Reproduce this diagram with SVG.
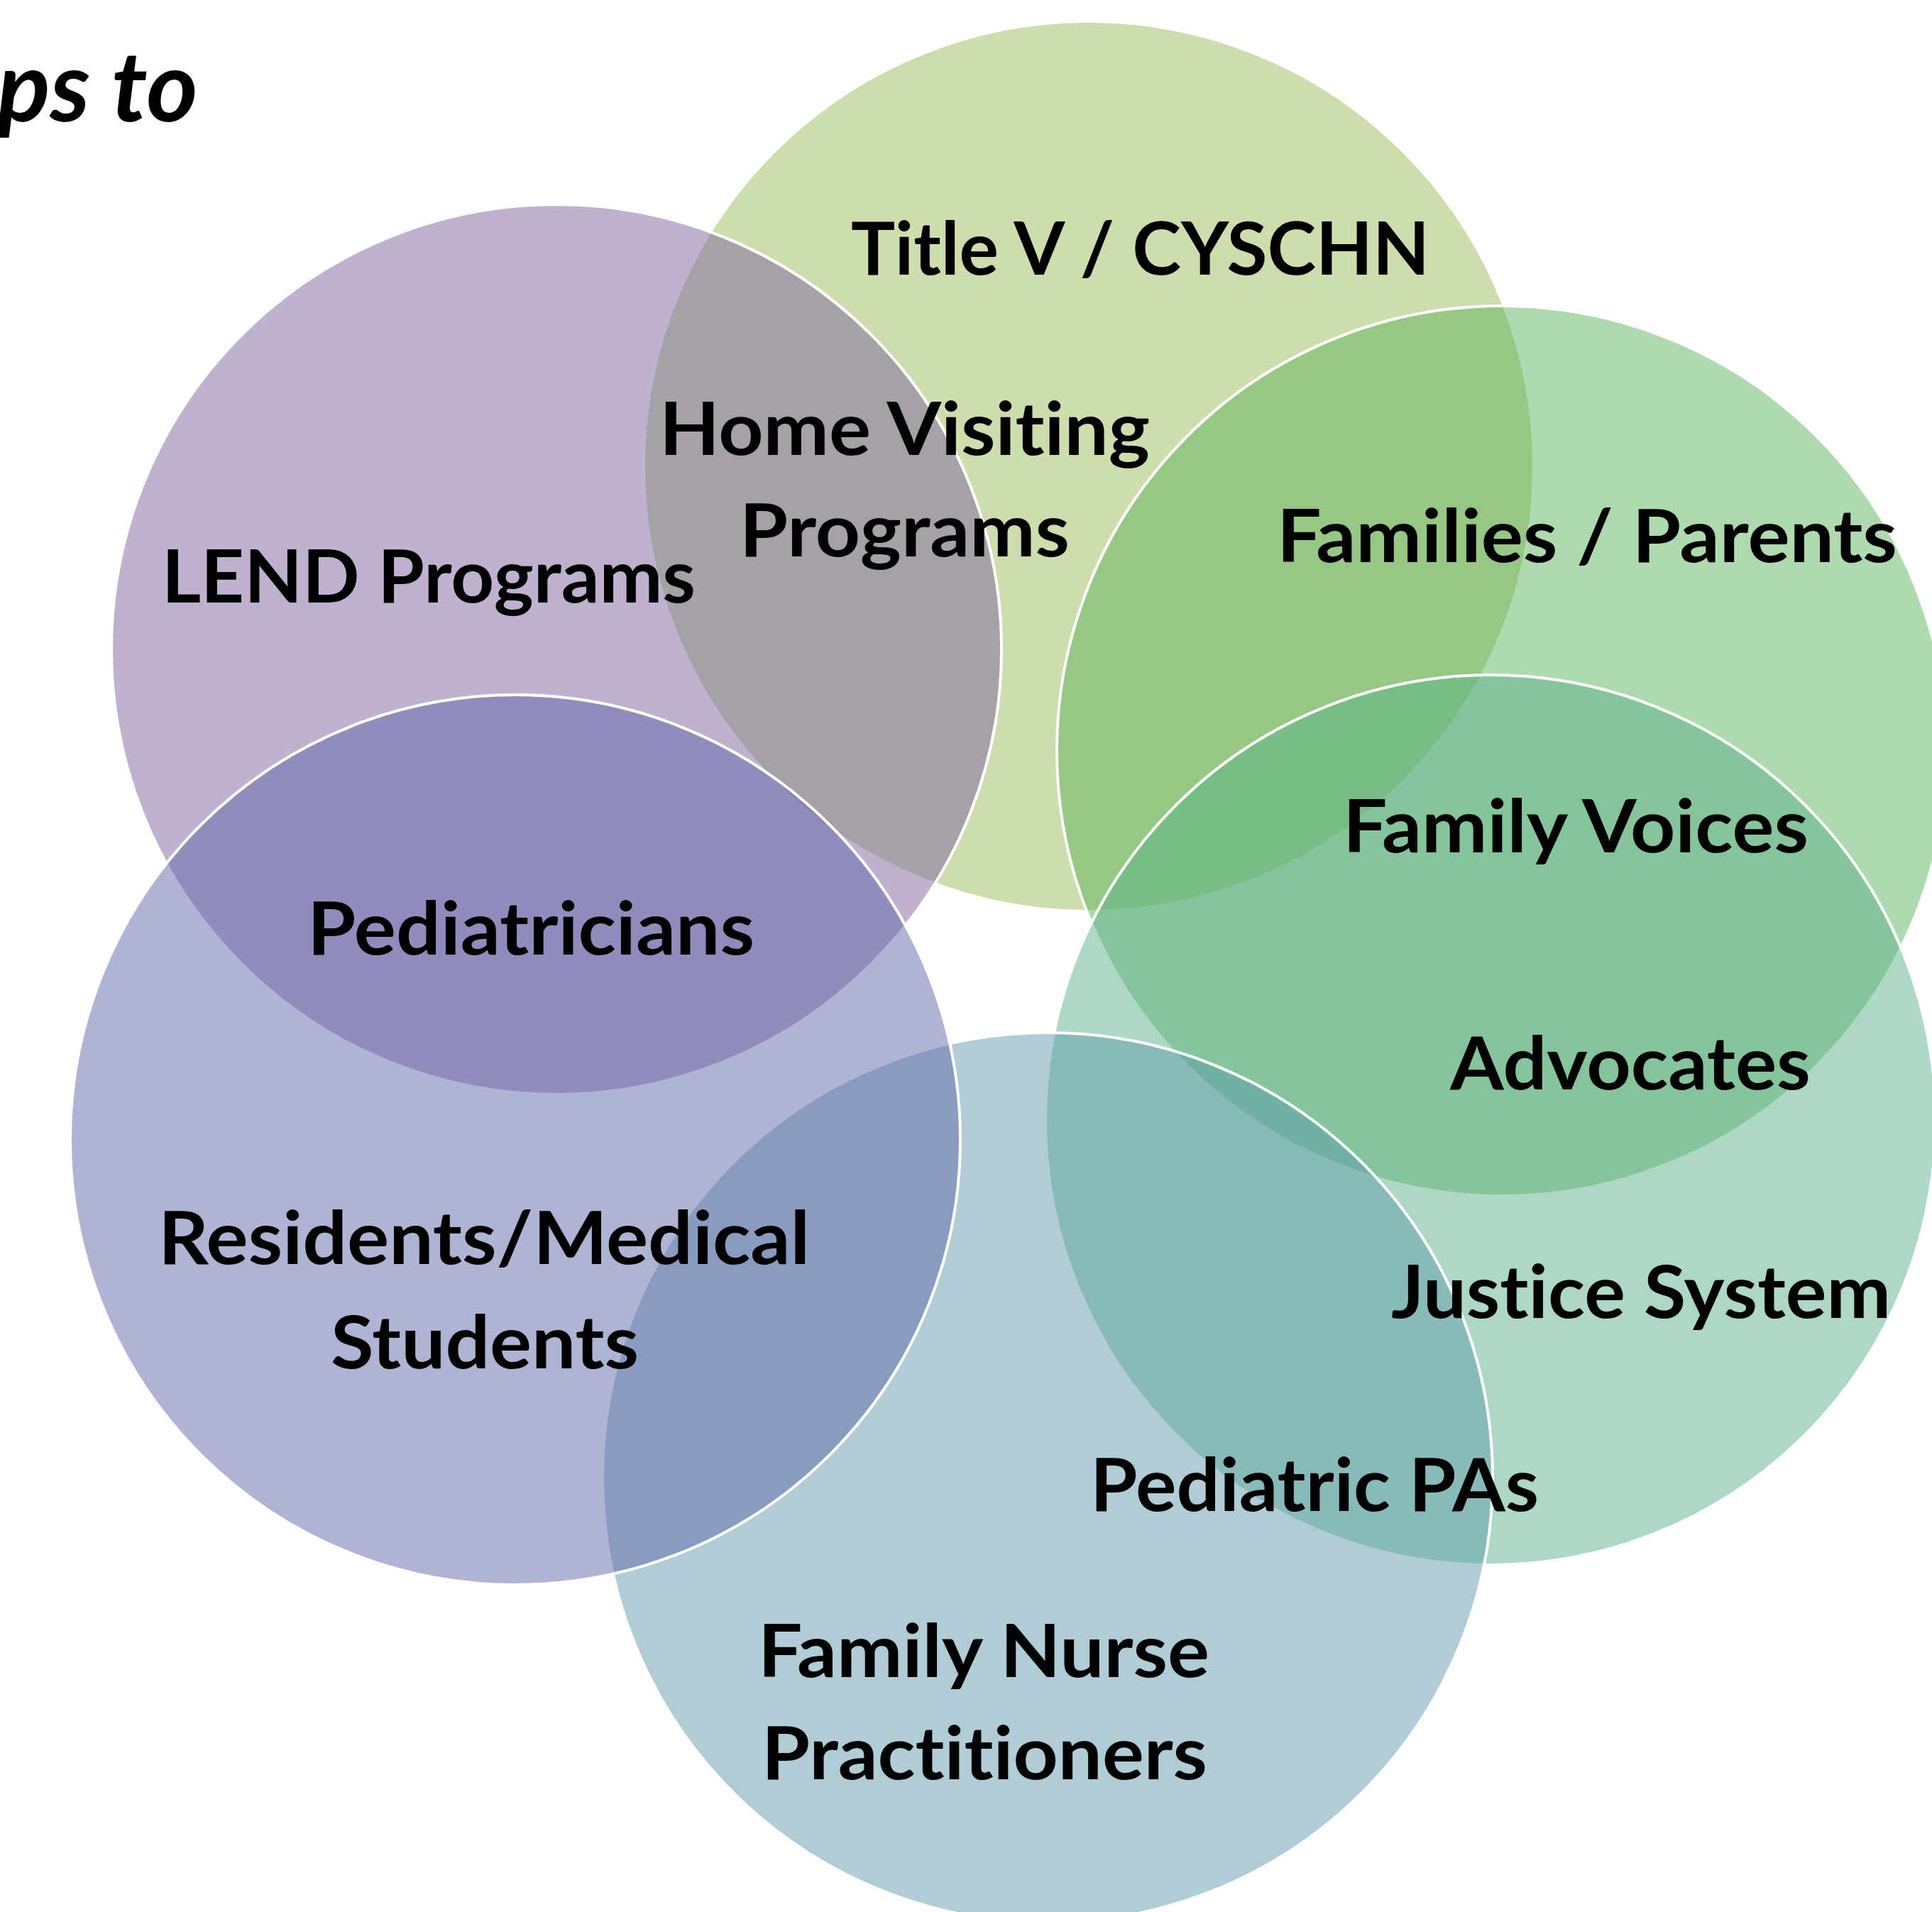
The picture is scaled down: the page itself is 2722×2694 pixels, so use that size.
<svg xmlns="http://www.w3.org/2000/svg" width="2722" height="2694" viewBox="0 0 2722 2694">
<style>
.c{fill-opacity:0.5;stroke:#FFFFFF;stroke-width:4}
.t{font-family:Lato,"Liberation Sans",sans-serif;font-weight:bold;font-size:104px;fill:#000000;font-variant-ligatures:none;font-feature-settings:"liga" 0,"clig" 0}
.h{font-family:Lato,"Liberation Sans",sans-serif;font-weight:bold;font-style:italic;font-size:138px;fill:#000000}
</style>
<rect x="0" y="0" width="2722" height="2694" fill="#FFFFFF"/>
<text class="h" x="-4" y="171" textLength="283" lengthAdjust="spacingAndGlyphs">ps to</text>
<g id="title-v">
<circle class="c" cx="1534" cy="657" r="627" fill="#9BBB59"/>
</g>
<g id="families">
<circle class="c" cx="2116" cy="1058" r="627" fill="#5FB35D"/>
</g>
<g id="family-voices">
<circle class="c" cx="2100" cy="1578" r="627" fill="#5BB187"/>
</g>
<g id="nurse">
<circle class="c" cx="1476" cy="2082" r="627" fill="#619BAD"/>
</g>
<g id="lend">
<circle class="c" cx="784" cy="915" r="627" fill="#8064A2"/>
</g>
<g id="residents">
<circle class="c" cx="726" cy="1606" r="627" fill="#6169A9"/>
</g>
<g id="labels">
<text class="t" x="1199" y="387" textLength="815" lengthAdjust="spacingAndGlyphs">Title V / CYSCHN</text>
<text class="t" x="929" y="641" textLength="691" lengthAdjust="spacingAndGlyphs">Home Visiting</text>
<text class="t" x="1042" y="784" textLength="465" lengthAdjust="spacingAndGlyphs">Programs</text>
<text class="t" x="228" y="849" textLength="752" lengthAdjust="spacingAndGlyphs">LEND Programs</text>
<text class="t" x="1799" y="792" textLength="874" lengthAdjust="spacingAndGlyphs">Families / Parents</text>
<text class="t" x="1892" y="1201" textLength="656" lengthAdjust="spacingAndGlyphs">Family Voices</text>
<text class="t" x="433" y="1345" textLength="630" lengthAdjust="spacingAndGlyphs">Pediatricians</text>
<text class="t" x="2043" y="1535" textLength="508" lengthAdjust="spacingAndGlyphs">Advocates</text>
<text class="t" x="223" y="1781" textLength="918" lengthAdjust="spacingAndGlyphs">Residents/Medical</text>
<text class="t" x="466" y="1928" textLength="434" lengthAdjust="spacingAndGlyphs">Students</text>
<text class="t" x="1960" y="1857" textLength="704" lengthAdjust="spacingAndGlyphs">Justice System</text>
<text class="t" x="1536" y="2129" textLength="632" lengthAdjust="spacingAndGlyphs">Pediatric PAs</text>
<text class="t" x="1068" y="2363" textLength="636" lengthAdjust="spacingAndGlyphs">Family Nurse</text>
<text class="t" x="1073" y="2507" textLength="628" lengthAdjust="spacingAndGlyphs">Practitioners</text>
</g>
</svg>
